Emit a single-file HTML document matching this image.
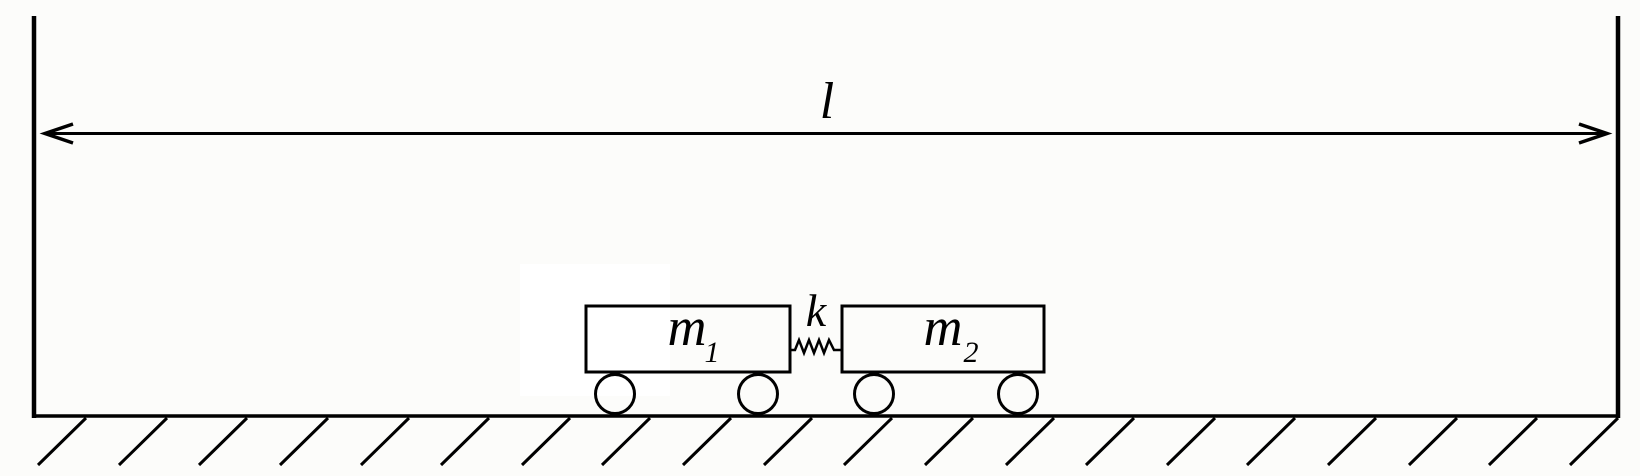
<!DOCTYPE html>
<html><head><style>html,body{margin:0;padding:0;background:#fcfcfa;}svg{display:block}</style></head>
<body>
<svg width="1640" height="476" viewBox="0 0 1640 476" xmlns="http://www.w3.org/2000/svg">
<rect x="520" y="264" width="150" height="132" fill="#ffffff"/>
<g stroke="#000" fill="none" stroke-linecap="butt">
<line x1="34" y1="16" x2="34" y2="418" stroke-width="4.5"/>
<line x1="1618" y1="16" x2="1618" y2="418" stroke-width="4.5"/>
<line x1="32" y1="416" x2="1620" y2="416" stroke-width="3.5"/>
<line x1="46" y1="133.5" x2="1606" y2="133.5" stroke-width="3"/>
<polyline points="73,124 45,133.5 73,143" stroke-width="3.5"/>
<polyline points="1579,124 1607,133.5 1579,143" stroke-width="3.5"/>
<g stroke-width="3">
<line x1="86" y1="418" x2="38" y2="465"/>
<line x1="167" y1="418" x2="119" y2="465"/>
<line x1="247" y1="418" x2="199" y2="465"/>
<line x1="328" y1="418" x2="280" y2="465"/>
<line x1="409" y1="418" x2="361" y2="465"/>
<line x1="489" y1="418" x2="441" y2="465"/>
<line x1="570" y1="418" x2="522" y2="465"/>
<line x1="650" y1="418" x2="602" y2="465"/>
<line x1="731" y1="418" x2="683" y2="465"/>
<line x1="812" y1="418" x2="764" y2="465"/>
<line x1="892" y1="418" x2="844" y2="465"/>
<line x1="973" y1="418" x2="925" y2="465"/>
<line x1="1054" y1="418" x2="1006" y2="465"/>
<line x1="1134" y1="418" x2="1086" y2="465"/>
<line x1="1215" y1="418" x2="1167" y2="465"/>
<line x1="1295" y1="418" x2="1247" y2="465"/>
<line x1="1376" y1="418" x2="1328" y2="465"/>
<line x1="1457" y1="418" x2="1409" y2="465"/>
<line x1="1537" y1="418" x2="1489" y2="465"/>
<line x1="1618" y1="418" x2="1570" y2="465"/>
</g>
<rect x="586" y="306" width="204" height="66" stroke-width="3"/>
<rect x="842" y="306" width="202" height="66" stroke-width="3"/>
<g stroke-width="3">
<circle cx="615" cy="394" r="19.5"/>
<circle cx="758" cy="394" r="19.5"/>
<circle cx="874" cy="394" r="19.5"/>
<circle cx="1018" cy="394" r="19.5"/>
</g>
<polyline points="790,350 795,350 799,340 804,353 809,340 814,353 819,340 824,353 829,340 834,350 842,350" stroke-width="2.5"/>
</g>
<g font-family="'Liberation Serif', serif" font-style="italic" fill="#000">
<text x="827" y="118" font-size="52" text-anchor="middle">l</text>
<text x="816" y="326" font-size="46" text-anchor="middle">k</text>
<text x="687" y="345" font-size="54" text-anchor="middle">m</text>
<text x="712" y="362" font-size="30" text-anchor="middle">1</text>
<text x="943" y="345" font-size="54" text-anchor="middle">m</text>
<text x="971" y="362" font-size="30" text-anchor="middle">2</text>
</g>
</svg>
</body></html>
